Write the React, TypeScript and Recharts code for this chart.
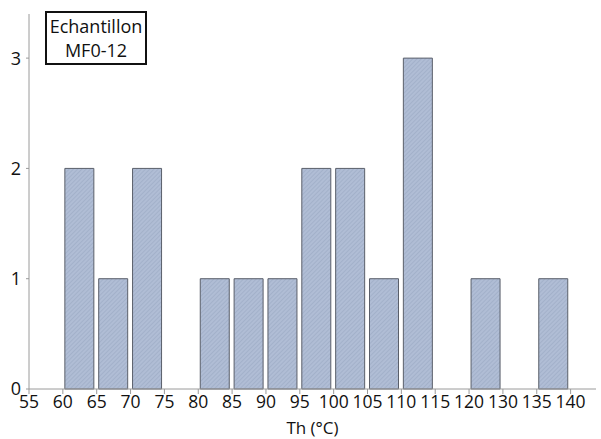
import { BarChart, Bar, XAxis, YAxis } from 'recharts'

// tick labels as printed on the original (note 125 is labelled 130)
const tickLabels = ['55', '60', '65', '70', '75', '80', '85', '90', '95', '100', '105', '110', '115', '120', '130', '135', '140']
// bin slot index (left tick) and counts
const binSlots = [1, 2, 3, 5, 6, 7, 8, 9, 10, 11, 13, 15]
const counts = [2, 1, 2, 1, 1, 1, 2, 2, 1, 3, 1, 1]

const data = binSlots.map((s, i) => ({ x: s + 0.5, n: counts[i] }))
const xTicks = tickLabels.map((_, i) => i)

const font = '"Open Sans", "Noto Sans", sans-serif'

export default function App() {
  return (
    <div style={{ position: 'absolute', left: 0, top: 0, width: 601, height: 439, background: '#fff', fontFamily: font }}>
      <BarChart width={601} height={439} data={data} margin={{ top: 14, right: 5, left: 0, bottom: 0 }}>
        <defs>
          <pattern id="hatch" patternUnits="userSpaceOnUse" width="3" height="3" patternTransform="rotate(45)">
            <rect width="3" height="3" fill="#b0bdd5" />
            <line x1="0" y1="0" x2="0" y2="3" stroke="#96a5c0" strokeWidth="1" />
          </pattern>
        </defs>
        <XAxis
          dataKey="x"
          type="number"
          domain={[0, 16.75]}
          ticks={xTicks}
          interval={0}
          tickFormatter={(v: number) => tickLabels[v]}
          stroke="#9a9a9a"
          tickSize={5}
          tickMargin={2}
          height={50}
          tick={{ fill: '#111', fontSize: 17.5, fontFamily: font }}
          label={{ value: 'Th (°C)', position: 'insideBottom', offset: 5, fill: '#111', fontSize: 17, fontFamily: font }}
        />
        <YAxis
          type="number"
          domain={[0, 3.4]}
          ticks={[0, 1, 2, 3]}
          width={29}
          stroke="#9a9a9a"
          tickSize={3}
          tickMargin={5}
          tick={{ fill: '#111', fontSize: 18, fontFamily: font }}
        />
        <Bar dataKey="n" barSize={29} fill="url(#hatch)" stroke="#5a5f6a" strokeWidth={1} isAnimationActive={false} />
      </BarChart>
      <div
        style={{
          position: 'absolute',
          left: 45,
          top: 11,
          width: 102,
          height: 54,
          border: '2px solid #111',
          textAlign: 'center',
          fontSize: 18,
          lineHeight: '24px',
          color: '#111',
          paddingTop: 1,
          boxSizing: 'border-box'
        }}
      >
        Echantillon
        <br />
        MF0-12
      </div>
    </div>
  )
}
